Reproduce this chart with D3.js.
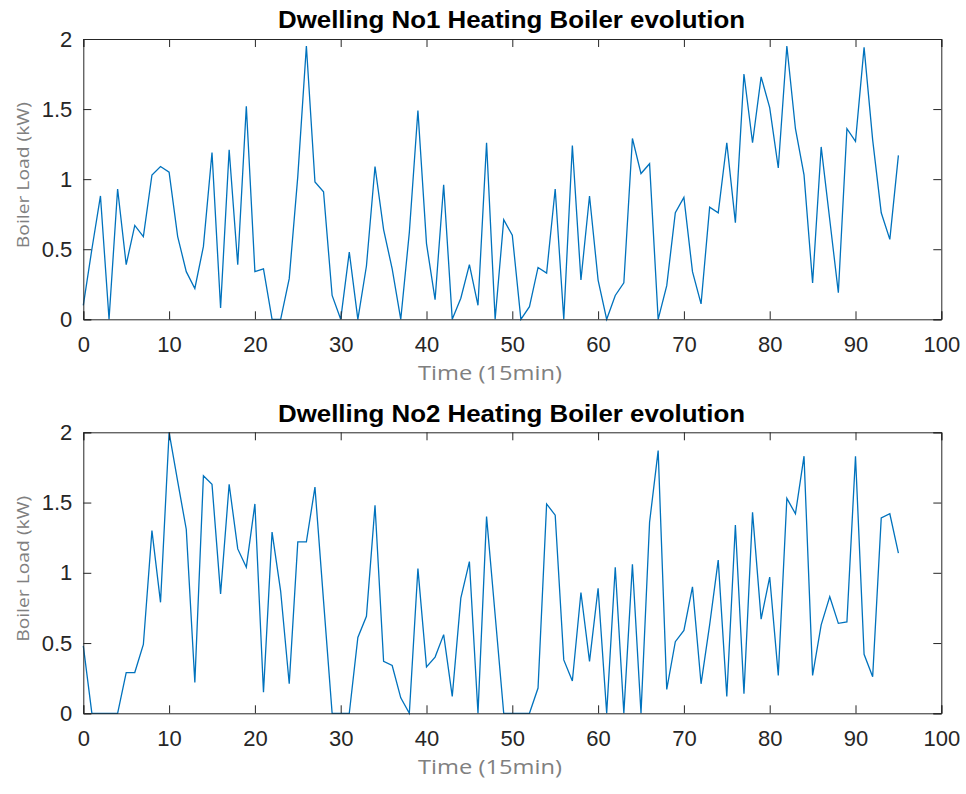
<!DOCTYPE html>
<html><head><meta charset="utf-8">
<script src="https://cdn.jsdelivr.net/npm/d3@7"></script>
<style>
html,body{margin:0;padding:0;background:#fff;}
svg{display:block;}
</style></head>
<body>
<svg id="chart" width="966" height="794"></svg>
<script>
const titles = ["Dwelling No1 Heating Boiler evolution", "Dwelling No2 Heating Boiler evolution"];
const xLabel = "Time (15min)";
const yLabel = "Boiler Load (kW)";
const xTicks = [0,10,20,30,40,50,60,70,80,90,100];
const yTicks = [0,0.5,1,1.5,2];

const dwelling1 = [0.10,0.50,0.88,0,0.93,0.39,0.67,0.59,1.03,1.09,
  1.05,0.59,0.34,0.22,0.52,1.19,0.08,1.21,0.39,1.52,
  0.34,0.36,0,0,0.29,1.02,1.95,0.98,0.91,0.17,
  0,0.48,0,0.38,1.09,0.64,0.36,0,0.62,1.49,
  0.54,0.14,0.96,0,0.15,0.39,0.10,1.26,0,0.71,
  0.60,0,0.09,0.37,0.33,0.93,0,1.24,0.28,0.88,
  0.28,0,0.17,0.26,1.29,1.04,1.11,0,0.24,0.76,
  0.87,0.34,0.11,0.80,0.76,1.26,0.69,1.75,1.26,1.73,
  1.51,1.08,1.95,1.36,1.03,0.26,1.23,0.71,0.19,1.36,
  1.27,1.94,1.28,0.76,0.57,1.17];

const dwelling2 = [0.48,0,0,0,0,0.29,0.29,0.49,1.30,0.79,
  2.0,1.65,1.31,0.22,1.69,1.63,0.85,1.63,1.17,1.04,
  1.49,0.15,1.29,0.87,0.21,1.22,1.22,1.61,0.80,0,
  0,0,0.54,0.69,1.48,0.37,0.34,0.11,0,1.03,
  0.33,0.40,0.56,0.12,0.82,1.08,0,1.40,0.70,0,
  0,0,0,0.18,1.49,1.41,0.38,0.23,0.86,0.37,
  0.89,0,1.04,0,1.06,0,1.36,1.87,0.17,0.51,
  0.59,0.90,0.21,0.63,1.09,0.12,1.34,0.14,1.43,0.67,
  0.97,0.27,1.53,1.42,1.83,0.27,0.63,0.83,0.64,0.65,
  1.83,0.42,0.26,1.39,1.42,1.14];

const series = [dwelling1, dwelling2];

const svg = d3.select("#chart");
const left = 83.3, right = 941.3;
const panels = [{top:39, bottom:319.3}, {top:432.3, bottom:713.3}];
const axisColor = "#262626";
const tickLen = 8;

panels.forEach((p, k) => {
  const x = d3.scaleLinear().domain([0,100]).range([left, right]);
  const y = d3.scaleLinear().domain([0,2]).range([p.bottom, p.top]);
  const g = svg.append("g");

  const line = d3.line().x((d,i)=>x(i)).y(d=>y(d));
  g.append("path").datum(series[k])
    .attr("d", line).attr("fill","none")
    .attr("stroke","#0072BD").attr("stroke-width",1.3)
    .attr("stroke-linejoin","miter");

  const xb = g.append("g").attr("transform",`translate(0,${p.bottom})`)
    .call(d3.axisBottom(x).tickValues(xTicks).tickSize(-tickLen).tickPadding(17).tickFormat(d3.format("d")));
  const xt = g.append("g").attr("transform",`translate(0,${p.top})`)
    .call(d3.axisTop(x).tickValues(xTicks).tickSize(-tickLen).tickFormat(""));
  const yl = g.append("g").attr("transform",`translate(${left},0)`)
    .call(d3.axisLeft(y).tickValues(yTicks).tickSize(-tickLen).tickPadding(11).tickFormat(d=>String(d)));
  const yr = g.append("g").attr("transform",`translate(${right},0)`)
    .call(d3.axisRight(y).tickValues(yTicks).tickSize(-tickLen).tickFormat(""));
  [xb,xt,yl,yr].forEach(a=>{
    a.selectAll("path.domain").attr("stroke",axisColor).attr("stroke-width",1);
    a.selectAll(".tick line").attr("stroke",axisColor).attr("stroke-width",1);
    a.selectAll("text").attr("fill",axisColor)
      .style("font-family","'Liberation Sans', Arial, sans-serif").style("font-size","22px");
  });

  g.append("text").attr("x", 511.5).attr("y", p.top-10.7)
    .attr("text-anchor","middle")
    .attr("textLength", 467).attr("lengthAdjust","spacingAndGlyphs")
    .style("font-family","'Liberation Sans', Arial, sans-serif")
    .style("font-weight","bold").style("font-size","23.5px").attr("fill","#000")
    .text(titles[k]);

  g.append("text").attr("x", 490).attr("y", p.bottom+61)
    .attr("text-anchor","middle")
    .attr("textLength", 144).attr("lengthAdjust","spacingAndGlyphs")
    .style("font-family","'Open Sans', sans-serif").style("font-size","20px")
    .attr("fill","#808080").text(xLabel);

  g.append("text")
    .attr("transform",`translate(29,${(p.top+p.bottom)/2 - 4}) rotate(-90)`)
    .attr("text-anchor","middle")
    .attr("textLength", 146).attr("lengthAdjust","spacingAndGlyphs")
    .style("font-family","'Open Sans', sans-serif").style("font-size","17px")
    .attr("fill","#808080").text(yLabel);
});
</script>
</body></html>
